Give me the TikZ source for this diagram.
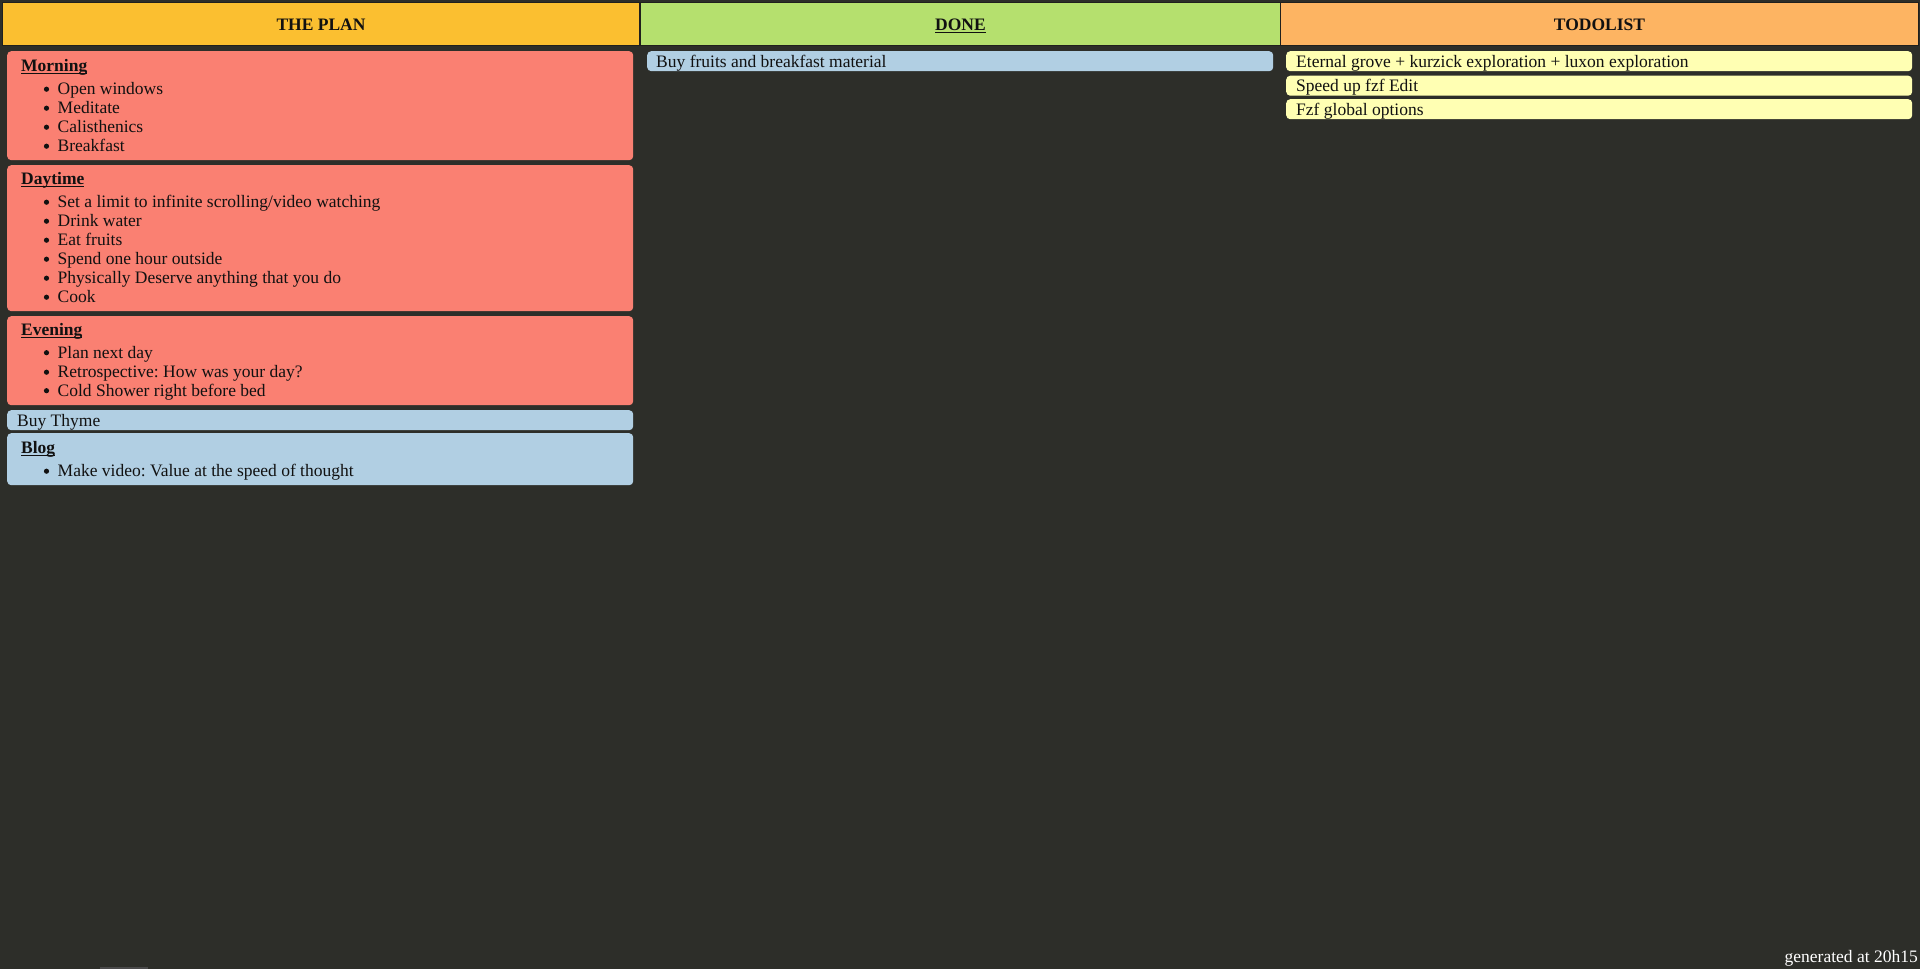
\documentclass[tikz,border=0pt]{standalone}
\usepackage{fontspec}
\setmainfont{Liberation Serif}
\frenchspacing
\definecolor{pagebg}{HTML}{2D2E29}
\definecolor{hyellow}{HTML}{FBBF30}
\definecolor{hgreen}{HTML}{B5E06E}
\definecolor{horange}{HTML}{FDB462}
\definecolor{salmoncard}{HTML}{FA8072}
\definecolor{bluecard}{HTML}{B1CFE3}
\definecolor{yellowcard}{HTML}{FFFFB3}
\definecolor{inkc}{HTML}{111111}
\definecolor{scrollgray}{HTML}{4A4A4A}
\newcommand\ulin[1]{\setbox0\hbox{#1}\rlap{\rule[-2.4pt]{\wd0}{1.1pt}}\box0}
\newcommand\planli[3]{%
  \node[bul] (#1b) at (46.5,#2+1.2) {};
  \node[txt, anchor=base west] (#1) at (57.5,#2+6.7) {#3};}
\begin{document}
\begin{tikzpicture}[x=1pt,y=-1pt,
  txt/.style={inner sep=0pt, text=inkc, font=\fontsize{17.5}{21}\selectfont\frenchspacing},
  hdr/.style={draw=pagebg!70!black, line width=1pt, inner sep=0pt, anchor=north west,
    minimum height=43pt, text height=12.6pt, text depth=0pt, text=inkc,
    font=\fontsize{17.5}{21}\selectfont\bfseries},
  card/.style={rounded corners=4pt, inner sep=0pt, anchor=north west, minimum width=626pt},
  bul/.style={circle, fill=inkc, inner sep=0pt, minimum size=5.2pt}]
\fill[pagebg] (0,0) rectangle (1920,969);
\useasboundingbox (0,0) rectangle (1920,969);
% headers
\node[hdr, fill=hyellow, minimum width=637pt] (hplan) at (2,2) {THE PLAN};
\node[hdr, fill=hgreen, minimum width=640pt] (hdone) at (640,2) {\ulin{DONE}};
\node[hdr, fill=horange, minimum width=638pt] (htodo) at (1280,2) {TODOLIST};
% plan cards
\node[card, fill=salmoncard, minimum height=109pt] (morning) at (7,51) {};
\node[card, fill=salmoncard, minimum height=146pt] (daytime) at (7,165) {};
\node[card, fill=salmoncard, minimum height=89pt] (evening) at (7,316) {};
\node[card, fill=bluecard, minimum height=20pt] (thyme) at (7,410) {};
\node[card, fill=bluecard, minimum height=52pt] (blog) at (7,433) {};
% morning
\node[txt, anchor=base west, font=\fontsize{17.5}{21}\selectfont\bfseries] (tmorning) at (21,71.7) {\ulin{Morning}};
\planli{m1}{88}{Open windows}
\planli{m2}{107}{Meditate}
\planli{m3}{126}{Calisthenics}
\planli{m4}{145}{Breakfast}
% daytime
\node[txt, anchor=base west, font=\fontsize{17.5}{21}\selectfont\bfseries] (tdaytime) at (21,184.2) {\ulin{Daytime}};
\planli{d1}{201}{Set a limit to infinite scrolling/video watching}
\planli{d2}{220}{Drink water}
\planli{d3}{239}{Eat fruits}
\planli{d4}{258}{Spend one hour outside}
\planli{d5}{277}{Physically Deserve anything that you do}
\planli{d6}{296}{Cook}
% evening
\node[txt, anchor=base west, font=\fontsize{17.5}{21}\selectfont\bfseries] (tevening) at (21,335.7) {\ulin{Evening}};
\planli{e1}{351.5}{Plan next day}
\planli{e2}{371}{Retrospective: How was your day?}
\planli{e3}{389.5}{Cold Shower right before bed}
% thyme
\node[txt, anchor=base west] (tthyme) at (17,426) {Buy Thyme};
% blog
\node[txt, anchor=base west, font=\fontsize{17.5}{21}\selectfont\bfseries] (tblog) at (21,453.7) {\ulin{Blog}};
\planli{b1}{470}{Make video: Value at the speed of thought}
% done
\node[card, fill=bluecard, minimum height=20pt] (done1) at (647,51) {};
\node[txt, anchor=base west] (tdone1) at (656,67.5) {Buy fruits and breakfast material};
% todo
\node[card, fill=yellowcard, minimum height=20pt] (todo1) at (1286,51) {};
\node[card, fill=yellowcard, minimum height=20pt] (todo2) at (1286,75.5) {};
\node[card, fill=yellowcard, minimum height=20pt] (todo3) at (1286,99) {};
\node[txt, anchor=base west] (ttodo1) at (1296,67.5) {Eternal grove + kurzick exploration + luxon exploration};
\node[txt, anchor=base west] (ttodo2) at (1296,91.5) {Speed up fzf Edit};
\node[txt, anchor=base west] (ttodo3) at (1296,115.5) {Fzf global options};
% footer
\node[txt, text=white, anchor=base east] (gen) at (1918,962) {generated at 20h15};
\fill[scrollgray] (100,967) rectangle (148,969);
\end{tikzpicture}
\end{document}
